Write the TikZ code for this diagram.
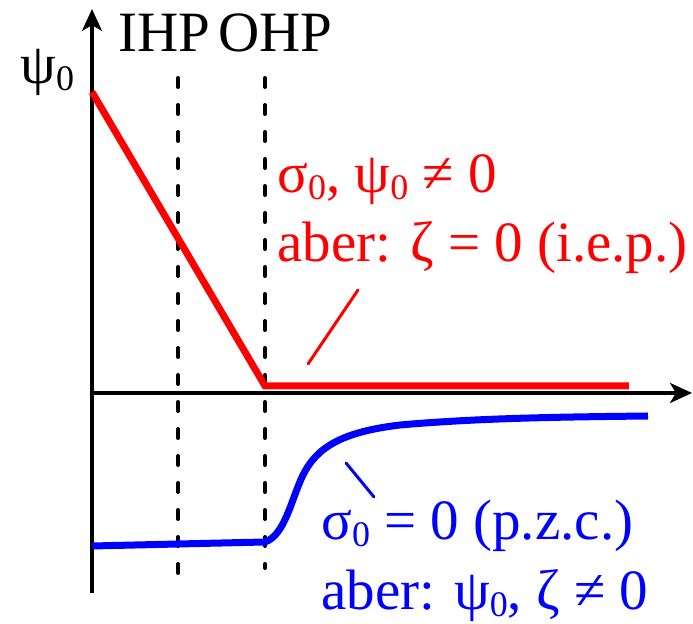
\documentclass[tikz,border=0pt]{standalone}
\usepackage{fontspec}
\setmainfont{Liberation Serif}
\usepackage{tikz}
\usetikzlibrary{arrows.meta, positioning}
\newcommand\tief[1]{\raisebox{-3.5pt}{\fontsize{18}{18}\selectfont #1}}

\begin{document}
\begin{tikzpicture}[x=0.5pt, y=-0.5pt, >={Stealth[length=11pt, width=10pt, inset=3pt]},
  font=\fontsize{28.5}{35}\selectfont,
  achse/.style={line width=1.7pt},
  ebene/.style={line width=2pt, line cap=round, dash pattern=on 4.5pt off 9pt},
  kurve/.style={line width=3.5pt},
  zeiger/.style={line width=1.5pt, line cap=round},
  txt/.style={inner sep=0pt, anchor=base west}]
  \useasboundingbox (0,0) rectangle (693,624);

  % Achsen
  \coordinate (O) at (92,393);
  \coordinate (ytop) at (92,9);
  \coordinate (ybot) at (92,593);
  \coordinate (xend) at (692,393);
  \draw[achse, ->] (ybot) -- (ytop);
  \draw[achse, ->] (O) -- (xend);
  \node[txt] (psi) at (20,84) {ψ\tief{0}};

  % Ebenen IHP / OHP
  \coordinate (ihpo) at (178,78);
  \coordinate (ihpu) at (178,583);
  \coordinate (ohpo) at (265,78);
  \coordinate (ohpu) at (265,568);
  \draw[ebene] (ihpo) -- (ihpu);
  \draw[ebene] (ohpo) -- (ohpu);
  \node[txt] (ihp) at (118,52) {IHP};
  \node[txt] (ohp) at (218,52) {OHP};

  % i.e.p.
  \coordinate (r0) at (92,92);
  \coordinate (r1) at (265,386);
  \coordinate (r2) at (629,386);
  \draw[kurve, red] (r0) -- (r1) -- (r2);
  \coordinate (rz1) at (358,290);
  \coordinate (rz2) at (308,364);
  \draw[zeiger, red] (rz1) -- (rz2);
  \node[txt, red] (iep1) at (277,193) {σ\tief{0}, ψ\tief{0} ≠ 0};
  \node[txt, red] (iep2) at (277,262) {aber: ζ = 0 (i.e.p.)};

  % p.z.c.
  \coordinate (b0) at (92,546);
  \coordinate (b1) at (265,542);
  \coordinate (b2) at (303,475);
  \coordinate (b3) at (400,425);
  \coordinate (b4) at (648,416);
  \draw[kurve, blue] (b0) -- (b1)
    .. controls (285,535) and (291,500) .. (b2)
    .. controls (317,447) and (342,432) .. (b3)
    .. controls (480,418) and (560,417) .. (b4);
  \coordinate (bz1) at (346,463);
  \coordinate (bz2) at (374,497);
  \draw[zeiger, blue] (bz1) -- (bz2);
  \node[txt, blue] (pzc1) at (321,540) {σ\tief{0} = 0 (p.z.c.)};
  \node[txt, blue] (pzc2) at (321,610) {aber: ψ\tief{0}, ζ ≠ 0};
\end{tikzpicture}
\end{document}
